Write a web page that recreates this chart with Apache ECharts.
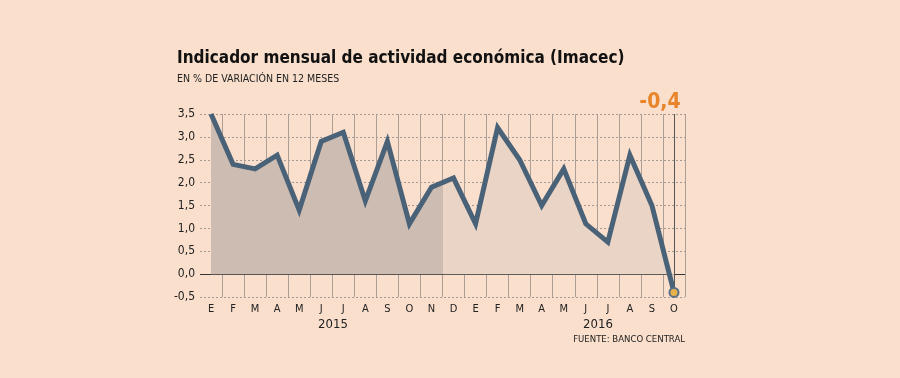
<!DOCTYPE html>
<html><head><meta charset="utf-8">
<script src="https://cdn.jsdelivr.net/npm/echarts@6/dist/echarts.min.js"></script>
<style>html,body{margin:0;padding:0;background:#f9dfcc;}#c{width:900px;height:378px;}</style>
</head><body><div id="c"></div>
<script>
const months = ['E','F','M','A','M','J','J','A','S','O','N','D','E','F','M','A','M','J','J','A','S','O'];
const imacec = [3.5,2.4,2.3,2.6,1.4,2.9,3.1,1.6,2.9,1.1,1.9,2.1,1.1,3.2,2.5,1.5,2.3,1.1,0.7,2.6,1.5,-0.4];
const yTicks = {min:-0.5, max:3.5, step:0.5};
const years = ['2015','2016'];
const title = 'Indicador mensual de actividad económica (Imacec)';
const subtitle = 'EN % DE VARIACIÓN EN 12 MESES';
const source = 'FUENTE: BANCO CENTRAL';
const lastLabel = '-0,4';

const FONT = '"DejaVu Sans Condensed", "DejaVu Sans", sans-serif';
const chart = echarts.init(document.getElementById('c'), null, {renderer:'canvas'});
const lineColor = '#4a6278';
const data = imacec.map((v,i)=> i===imacec.length-1 ? {value:v, symbol:'circle', symbolSize:9, itemStyle:{color:'#e8b24c', borderColor:'#5a7084', borderWidth:2}} : v);
chart.setOption({
  backgroundColor:'#f9dfcc',
  animation:false,
  textStyle:{fontFamily:FONT},
  title:{text:title, subtext:subtitle, left:172, top:45, itemGap:7,
    textStyle:{fontFamily:FONT, fontWeight:'bold', fontSize:17, color:'#111'},
    subtextStyle:{fontFamily:FONT, fontSize:10.5, color:'#222'}},
  grid:{left:200, right:215, top:114, bottom:81, containLabel:false},
  xAxis:{type:'category', data:months, boundaryGap:true,
    axisLine:{show:false}, axisTick:{show:false},
    axisLabel:{color:'#222', fontSize:11, margin:7, fontFamily:FONT},
    splitLine:{show:true, showMinLine:false, lineStyle:{color:'#ab9e96', width:1}}},
  yAxis:{type:'value', min:yTicks.min, max:yTicks.max, interval:yTicks.step,
    axisLine:{show:false}, axisTick:{show:false},
    axisLabel:{color:'#222', fontSize:12, margin:5, fontFamily:FONT, formatter:v=>v.toFixed(1).replace('.',',')},
    splitLine:{show:true, lineStyle:{color:'#a49a94', type:[2,2], width:1}}},
  series:[{type:'line', data:data, symbol:'none', showSymbol:true, z:5,
    lineStyle:{color:lineColor, width:5, join:'miter'},
    itemStyle:{color:lineColor},
    areaStyle:{opacity:1, color:new echarts.graphic.LinearGradient(0,0,1,0,[
      {offset:0,color:'#cdbcb2'},{offset:0.5,color:'#cdbcb2'},{offset:0.5,color:'#ead4c5'},{offset:1,color:'#ead4c5'}])},
    markLine:{silent:true, symbol:'none', label:{show:false}, z:3,
      data:[{yAxis:0, lineStyle:{color:'#333', width:1.2, type:'solid'}},
            {xAxis:imacec.length-1, lineStyle:{color:'#555', width:1, type:'solid'}}]}
  }],
  graphic:[
    {type:'text', x:660, y:103, style:{text:lastLabel, font:'bold 21px '+FONT, fill:'#e8852a', align:'center', verticalAlign:'middle'}},
    {type:'text', x:333, y:325, style:{text:years[0], font:'13px '+FONT, fill:'#222', align:'center', verticalAlign:'middle'}},
    {type:'text', x:598, y:325, style:{text:years[1], font:'13px '+FONT, fill:'#222', align:'center', verticalAlign:'middle'}},
    {type:'text', x:685, y:340, style:{text:source, font:'9.5px '+FONT, fill:'#222', align:'right', verticalAlign:'middle'}}
  ]
});
</script></body></html>
